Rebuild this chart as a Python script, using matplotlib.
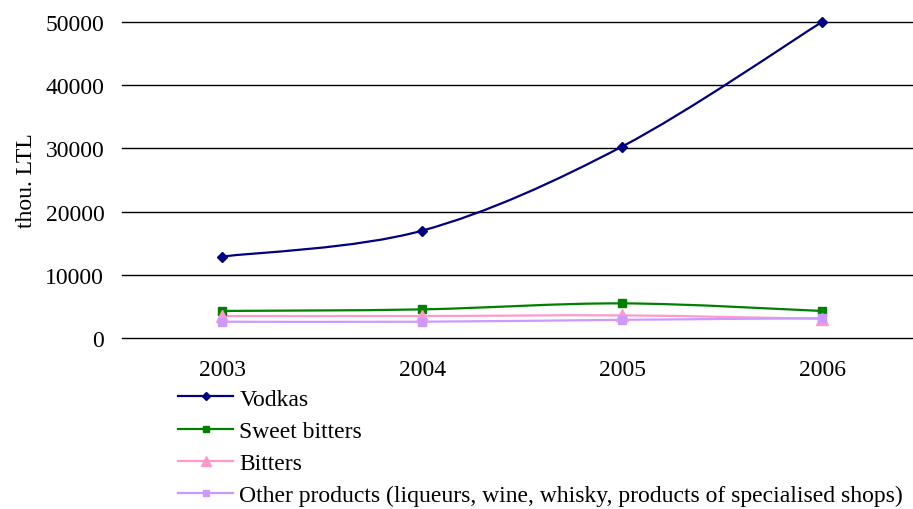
import numpy as np
import matplotlib
matplotlib.use("Agg")
import matplotlib.pyplot as plt
from matplotlib.path import Path
from matplotlib.patches import PathPatch
from matplotlib.lines import Line2D

years = ["2003", "2004", "2005", "2006"]
vodkas = [12900, 17000, 30300, 50000]
sweet_bitters = [4300, 4550, 5500, 4300]
bitters = [3500, 3500, 3600, 3050]
other = [2600, 2600, 2900, 3150]

series = [
    ("Vodkas", vodkas, "#000080", "D", 5),
    ("Sweet bitters", sweet_bitters, "#008000", "s", 5.5),
    ("Bitters", bitters, "#FF99CC", "^", 9),
    ("Other products (liqueurs, wine, whisky, products of specialised shops)",
     other, "#CC99FF", "s", 6),
]


def smooth_path(x, y):
    # Excel-style smoothed line as cubic Bezier segments
    x = np.asarray(x, float); y = np.asarray(y, float)
    pts = np.column_stack([x, y])
    n = len(pts)
    verts = [pts[0]]; codes = [Path.MOVETO]
    for i in range(n - 1):
        p0 = pts[i - 1] if i > 0 else pts[i]
        p3 = pts[i + 2] if i + 2 < n else pts[i + 1]
        c1 = pts[i] + (pts[i + 1] - p0) / 6
        c2 = pts[i + 1] - (p3 - pts[i]) / 6
        verts += [c1, c2, pts[i + 1]]
        codes += [Path.CURVE4] * 3
    return Path(verts, codes)


plt.rcParams["font.family"] = ["Liberation Serif", "DejaVu Serif"]
fig = plt.figure(figsize=(9.13, 5.10), dpi=100)
ax = fig.add_axes([0.134, 0.335, 0.866, 0.62])
x = np.arange(len(years))

handles = []
for name, vals, col, mk, ms in series:
    ax.add_patch(PathPatch(smooth_path(x, vals), fill=False, edgecolor=col,
                           lw=1.6, zorder=3, clip_on=False))
    ax.plot(x, vals, ls="none", marker=mk, ms=ms, color=col, zorder=4,
            clip_on=False)
    handles.append(Line2D([], [], color=col, lw=1.6, marker=mk, ms=ms * 0.8,
                          label=name))

ax.set_xlim(-0.5, 3.455)
ax.set_ylim(0, 50000)
yt = np.arange(0, 50001, 10000)
ax.set_yticks(yt)
for v in yt:
    ax.axhline(v, color="black", lw=1, zorder=1, clip_on=False)
ax.set_xticks(x)
ax.set_xticklabels(years)
for s in ax.spines.values():
    s.set_visible(False)
ax.tick_params(length=0, labelsize=17, pad=15)
ax.tick_params(axis="y", pad=13)
ax.set_ylabel("thou. LTL", fontsize=17, labelpad=6)

fig.legend(handles=handles, loc="upper left", bbox_to_anchor=(0.182, 0.26),
           frameon=False, fontsize=17, handlelength=2.35, handletextpad=0.25,
           labelspacing=0.45, borderpad=0)

fig.savefig("out.png", dpi=100)
